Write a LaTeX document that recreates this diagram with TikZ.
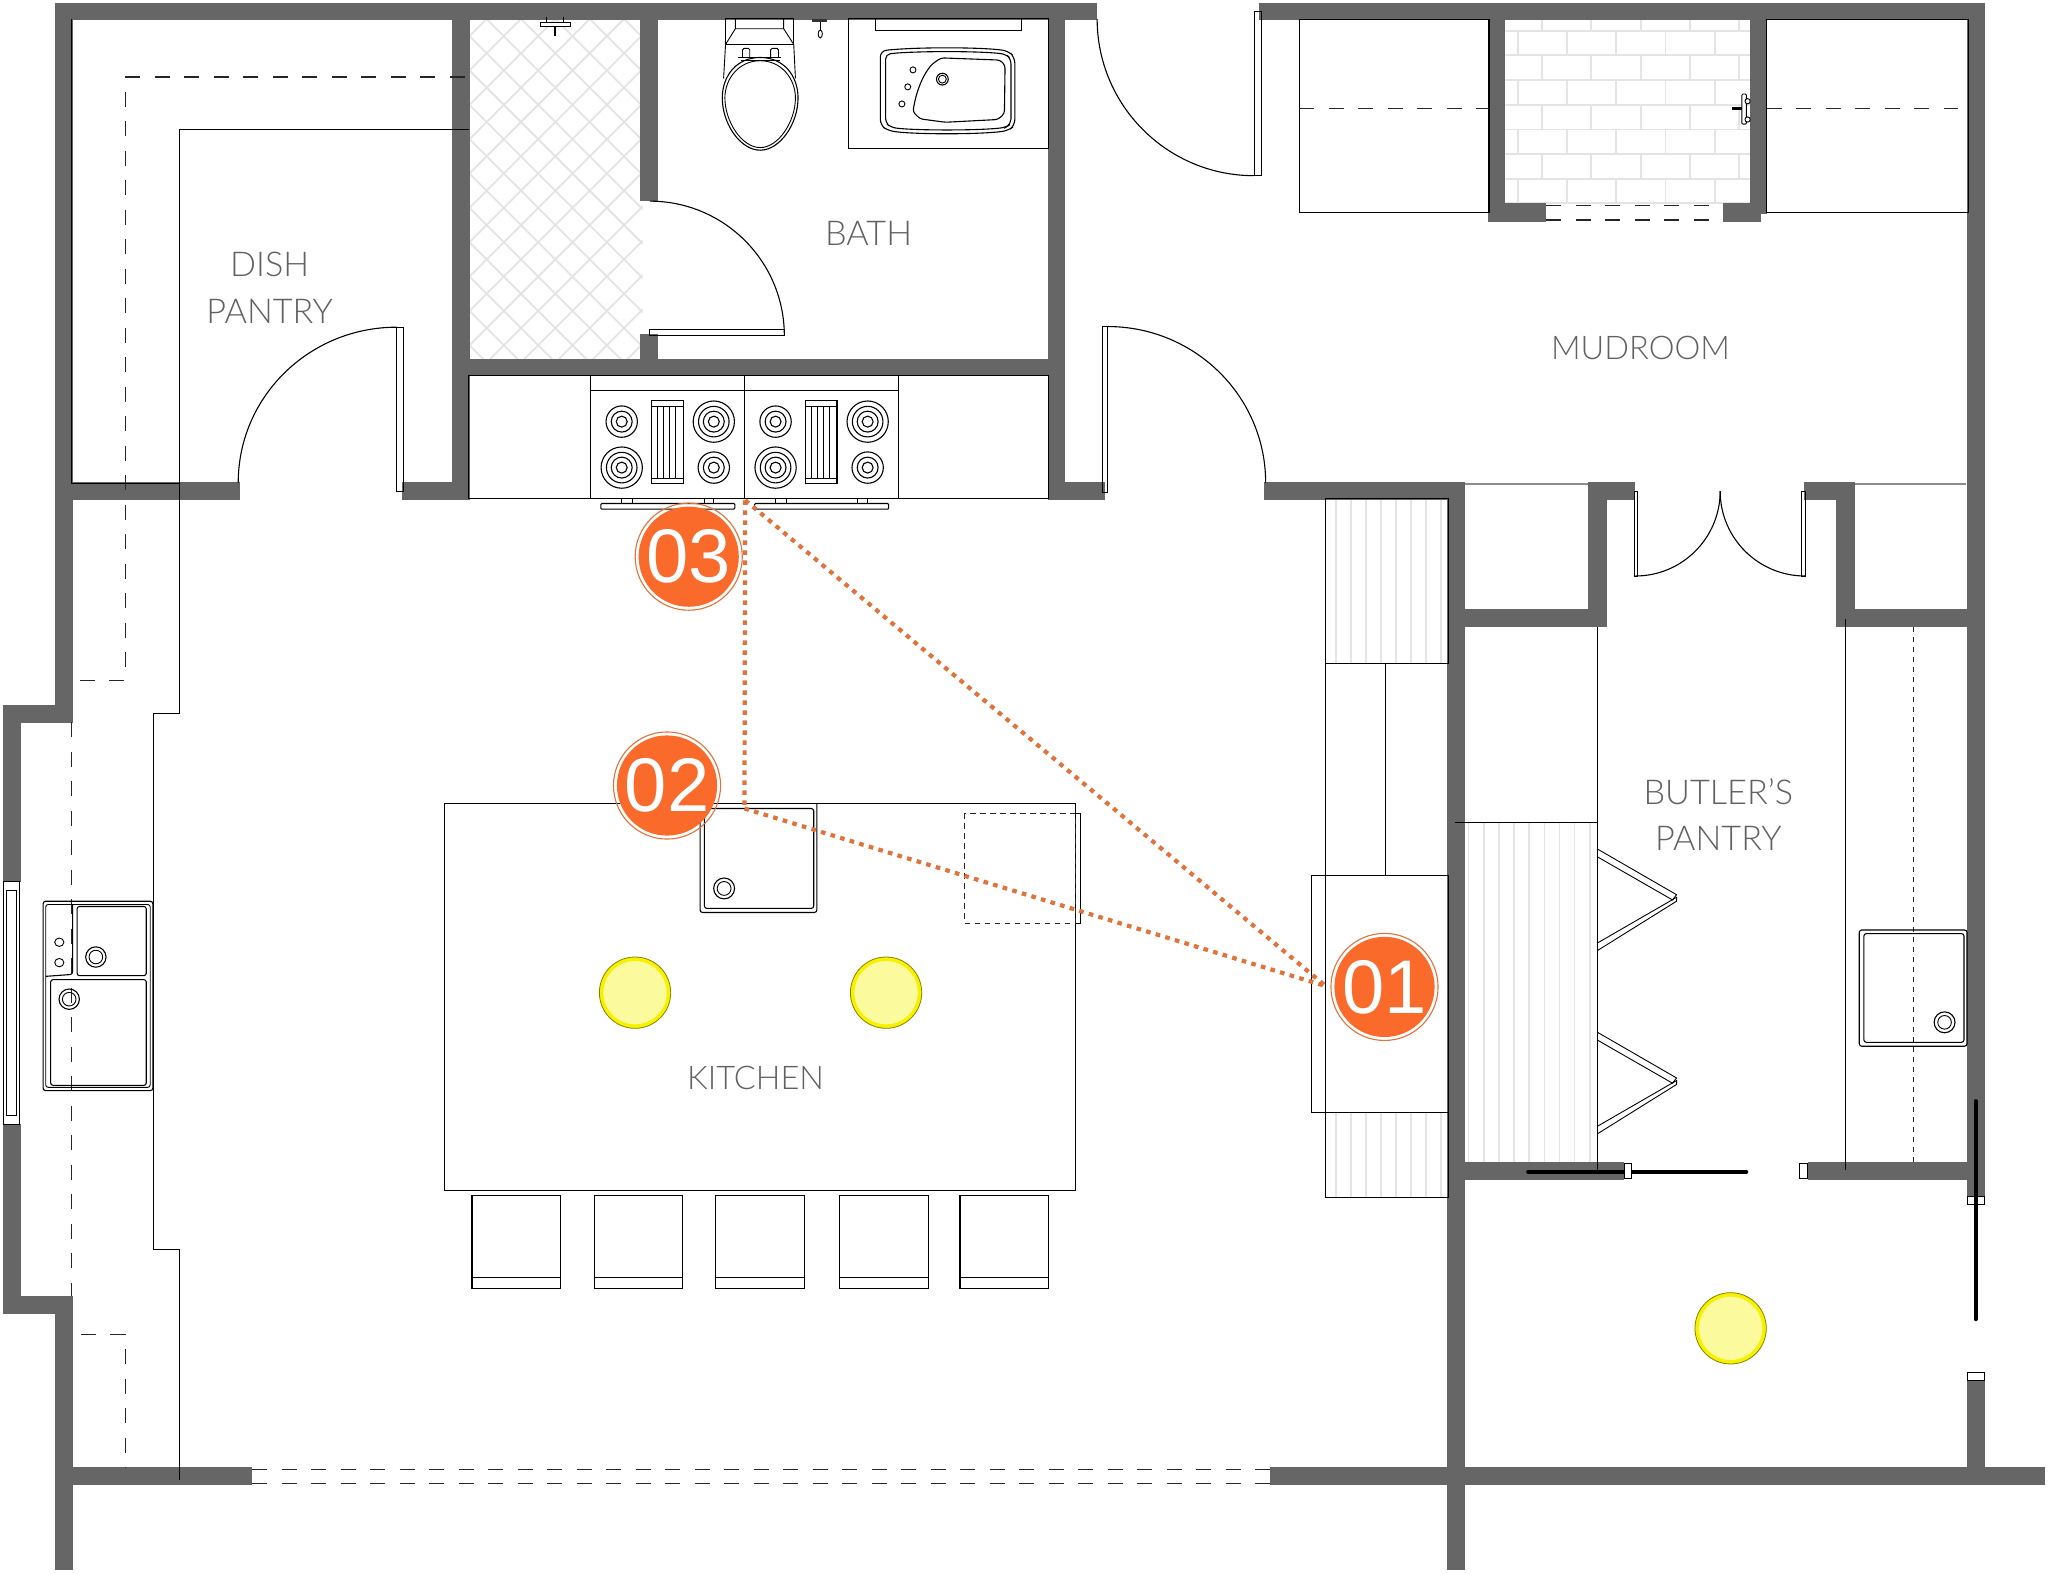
\documentclass[tikz,border=0pt]{standalone}
\usepackage{fontspec}
\setmainfont{Liberation Sans}
\newfontfamily\thinfont{Lato Light}
\definecolor{wallc}{HTML}{666666}
\definecolor{orangeb}{HTML}{F96A2B}
\definecolor{orangel}{HTML}{E0723C}
\definecolor{tilec}{HTML}{E4E4E4}
\definecolor{lampf}{HTML}{FBFB9E}
\definecolor{lampr}{HTML}{F7F000}
\tikzset{
  wall/.style={fill=wallc},
  thinline/.style={draw=black,line width=1.1pt},
  fineline/.style={draw=black,line width=0.9pt},
  dashline/.style={draw=black!85,line width=1.2pt,dash pattern=on 15pt off 14.5pt},
  dashfine/.style={draw=black!85,line width=1.1pt,dash pattern=on 5.5pt off 4.5pt},
  tile/.style={draw=tilec,line width=1.8pt},
  stripe/.style={draw=tilec,line width=1.6pt},
  roomlabel/.style={inner sep=0pt,anchor=base,text=black!62,font=\thinfont\fontsize{34.2}{34}\selectfont},
  roomlabelsm/.style={roomlabel,font=\thinfont\fontsize{32.6}{33}\selectfont},
  badge/.style={circle,fill=orangeb,text=white,minimum size=96.5pt,inner sep=0pt,font=\fontsize{76}{76}\selectfont},
  badgering/.style={draw=orangel,line width=1.1pt},
  sightline/.style={draw=orangel,line width=4.2pt,dash pattern=on 4.6pt off 5.4pt},
  lamp/.style={fill=lampf,draw=lampr,line width=4pt},
  lampedge/.style={draw=black!45!lampr,line width=0.8pt},
  barndoor/.style={draw=black,line width=4pt,line cap=round},
}
\begin{document}
\begin{tikzpicture}[x=1.30612pt,y=-1.30612pt]
\useasboundingbox (0,0) rectangle (1568,1205);
\fill[white] (0,0) rectangle (1568,1205);
% shower tiles
\begin{scope}
\clip (360,16) rectangle (492,275);
\foreach \k in {-4,-3,...,12}{
  \pgfmathsetmacro{\c}{466+26.3*\k}
  \draw[tile] (\c-300,300) -- (\c,0);
}
\foreach \k in {-12,-11,...,4}{
  \pgfmathsetmacro{\c}{384.4+26.3*\k}
  \draw[tile] (\c,0) -- (\c+300,300);
}
\end{scope}
% brick tiles
\begin{scope}
\clip (1152.5,15.3) rectangle (1340,155.7);
\foreach \y in {23.5,42.4,61.3,80.2,99.1,118,136.9,155.2}{\draw[tile] (1150,\y) -- (1342,\y);}
\foreach \y in {4.6,42.4,80.2,118}{\foreach \x in {1180.7,1218.4,...,1340}{\draw[tile] (\x,\y) -- (\x,\y+18.9);}}
\foreach \y in {23.5,61.3,99.1,136.9}{\foreach \x in {1162,1199.7,...,1340}{\draw[tile] (\x,\y) -- (\x,\y+18.9);}}
\end{scope}
% counter stripes
\foreach \x in {1022.7,1034.2,...,1105}{\draw[stripe] (\x,382) -- (\x,508); \draw[stripe] (\x,852) -- (\x,917);}
\foreach \x in {1124.4,1136,...,1220}{\draw[stripe] (\x,630) -- (\x,890);}
\draw[draw=black!45,line width=1.2pt] (1121,370.5) -- (1216,370.5) (1420,370.5) -- (1505,370.5);
% walls
\fill[wall] (42.3,2) rectangle (840,15.5);
\fill[wall] (964,2) rectangle (1519.5,15.5);
\fill[wall] (42.3,2) rectangle (56,553.5);
\fill[wall] (2,540) rectangle (56,553.5);
\fill[wall] (2,540) rectangle (15.8,675);
\fill[wall] (2,860.6) rectangle (15.8,1005.7);
\fill[wall] (2,992) rectangle (56,1005.7);
\fill[wall] (42.3,992) rectangle (56,1202);
\fill[wall] (42.3,369) rectangle (183.7,382.8);
\fill[wall] (307.5,369) rectangle (359.5,382.5);
\fill[wall] (346,2) rectangle (359.5,382.5);
\fill[wall] (490,2) rectangle (504,154);
\fill[wall] (490,256) rectangle (504,287);
\fill[wall] (346,275) rectangle (815,287.5);
\fill[wall] (802,2) rectangle (815,382.5);
\fill[wall] (802,369) rectangle (846,382.5);
\fill[wall] (968,369) rectangle (1121.8,382.5);
\fill[wall] (1108,369) rectangle (1121.8,1202);
\fill[wall] (1216,369) rectangle (1252,382.5);
\fill[wall] (1216,369) rectangle (1230,480);
\fill[wall] (1121.8,466) rectangle (1230,480);
\fill[wall] (1381,369) rectangle (1420,382.5);
\fill[wall] (1406,369) rectangle (1420,480);
\fill[wall] (1406,466) rectangle (1506,480);
\fill[wall] (1505.7,2) rectangle (1519.5,916.3);
\fill[wall] (1140,15) rectangle (1152.5,170);
\fill[wall] (1139,155.7) rectangle (1184,170);
\fill[wall] (1340,15) rectangle (1352.5,164);
\fill[wall] (1319.5,155.7) rectangle (1348,170);
\fill[wall] (1121.8,890) rectangle (1243.5,903.8);
\fill[wall] (1384,890) rectangle (1506,903.8);
\fill[wall] (1505.7,1056.7) rectangle (1519.5,1124);
\fill[wall] (42.3,1123.5) rectangle (193,1137);
\fill[wall] (972,1123.5) rectangle (1566,1137);
% outline lines
\draw[thinline] (54.9,14.5) -- (54.9,370.5) -- (137.3,370.5);
\draw[thinline] (359.3,99) -- (137.3,99) -- (137.3,546.4) -- (117.3,546.4) -- (117.3,956.7) -- (137.3,956.7) -- (137.3,1133);
\draw[dashline] (355.8,59) -- (96,59) -- (96,521) -- (56,521);
\draw[dashline] (62,1021.7) -- (96,1021.7) -- (96,1124);
\draw[dashline] (54.8,553) -- (54.8,992);
\draw[dashline] (193,1124.8) -- (972,1124.8);
\draw[dashline] (193,1135.8) -- (972,1135.8);
% doors
\draw[thinline] (497.5,154) arc[start angle=-90,end angle=0,radius=103];
\draw[fineline] (497,252.6) rectangle (600.6,257);
\draw[thinline] (182.4,369.5) arc[start angle=180,end angle=270,x radius=121.3,y radius=119];
\draw[fineline] (303.7,250.5) rectangle (308.8,376.6);
\draw[thinline] (969,369.5) arc[start angle=0,end angle=-90,x radius=121,y radius=119.5];
\draw[fineline] (844,250) rectangle (848,377);
\draw[thinline] (840,14.5) arc[start angle=180,end angle=90,radius=120];
\draw[fineline] (960.6,8.7) rectangle (965.8,134.5);
\draw[thinline] (1252,441) arc[start angle=90,end angle=0,radius=65];
\draw[thinline] (1382,441) arc[start angle=90,end angle=180,radius=65];
\draw[fineline] (1251.7,376) rectangle (1254,441);
\draw[fineline] (1379.4,376) rectangle (1382,441);
% closets
\draw[thinline] (994.8,15) rectangle (1140,163);
\draw[thinline] (1352.5,15) rectangle (1507,163);
\draw[dashline] (994.8,83) -- (1140,83);
\draw[dashline] (1352.5,83) -- (1499,83);
\draw[dashline] (1184,157.5) -- (1319.5,157.5);
\draw[dashline] (1184,168.4) -- (1319.5,168.4);
% shower fixtures
\draw[fineline,fill=white] (413.7,17) rectangle (437,20.3);
\draw[thinline,line width=1.6pt] (418.5,12.7) -- (418.5,17) (431.4,12.7) -- (431.4,17) (425,20) -- (425,27.7);
\draw[fineline,fill=white,rounded corners=1pt] (1333.6,72) rectangle (1337,95);
\fill[black] (1326,82) rectangle (1334,84.5);
\draw[fineline,fill=white] (1338,77.5) circle[radius=2] (1338,91.5) circle[radius=2];
% toilet
\draw[thinline] (555.5,14.5) -- (607.7,14.5) -- (607.7,34) -- (555.5,34) -- cycle;
\draw[fineline] (563,14.5) -- (563,22) -- (555.5,34) (600,14.5) -- (600,22) -- (607.7,34) (563,22) -- (600,22);
\draw[fineline] (555.5,34) -- (554,60) (607.7,34) -- (609,60);
\draw[thinline,fill=white] (582,44) .. controls (600,44) and (611,58) .. (611,75) .. controls (611,95) and (597,115) .. (582,115) .. controls (567,115) and (553,95) .. (553,75) .. controls (553,58) and (564,44) .. (582,44) -- cycle;
\draw[fineline] (582,46.5) .. controls (598,46.5) and (609,60) .. (609,75) .. controls (609,93) and (596,113) .. (582,113) .. controls (568,113) and (555,93) .. (555,75) .. controls (555,60) and (566,46.5) .. (582,46.5) -- cycle;
\draw[fineline,fill=white,rounded corners=1.5pt] (568.5,44) -- (568.5,37) -- (574,37) -- (574,44);
\draw[fineline,fill=white,rounded corners=1.5pt] (590,44) -- (590,37) -- (596,37) -- (596,44);
\draw[fineline] (565,44) -- (598,44) (567,46) -- (597,46);
% wall hook
\draw[fineline] (628,17) -- (628,28) ;
\fill[black!80] (622,14.5) rectangle (633.5,17);
\draw[fineline,fill=white] (628,26) ellipse[x radius=1.6,y radius=3];
% vanity
\draw[thinline] (649.6,14.5) rectangle (802.7,113.4);
\draw[thinline] (670,14.5) rectangle (782.4,23.2);
\draw[thinline,rounded corners=6pt] (674,39) .. controls (700,36) and (750,36) .. (772,39) -- (777,44) -- (777,96) -- (772,100) .. controls (750,103) and (700,103) .. (680,100) -- (674,96) -- cycle;
\draw[thinline,rounded corners=5pt] (678,41.5) .. controls (700,39) and (750,39) .. (770,41.5) -- (774,45) -- (774,95) -- (770,97.5) .. controls (750,100) and (700,100) .. (682,97.5) -- (678,94) -- cycle;
\draw[thinline,rounded corners=3pt] (720.5,44.3) -- (765.7,46) -- (769.5,50) -- (769,87) -- (764,91.5) -- (723.8,93.6) -- (704.4,91) -- (699,85.7) .. controls (701,72) and (706,58) .. (714,48.8) -- cycle;
\draw[thinline] (721.5,60.6) circle[radius=4.5];
\draw[fineline] (721.5,60.6) circle[radius=3];
\draw[fineline] (699,53.5) circle[radius=2.3] (695,66.5) circle[radius=2.3] (690.5,79.6) circle[radius=2.3];
% cooking wall
\draw[thinline] (359,287.5) rectangle (802.7,381.8);
\foreach \o in {0,117.8}{
  \begin{scope}[xshift=\o*1.30612pt]
  \draw[thinline] (452.4,287.5) rectangle (570,381.8);
  \draw[thinline] (452.4,299.3) -- (570,299.3);
  \draw[thinline] (499,306.7) rectangle (523,370);
  \draw[fineline] (499,311) -- (523,311) (499,366) -- (523,366);
  \foreach \x in {503.5,508,512.5,517}{\draw[fineline] (\x,311) -- (\x,366);}
  \foreach \x/\y in {476/322.8,546.5/358}{
    \draw[thinline] (\x,\y) circle[radius=12];
    \draw[thinline] (\x,\y) circle[radius=8];
    \draw[thinline] (\x,\y) circle[radius=4.2];
  }
  \foreach \x/\y in {546.5/322.8,476/358}{
    \draw[thinline] (\x,\y) circle[radius=15.8];
    \draw[thinline] (\x,\y) circle[radius=11.7];
    \draw[thinline] (\x,\y) circle[radius=8];
    \draw[thinline] (\x,\y) circle[radius=4.2];
  }
  \draw[fineline] (476,382) -- (476,385.5) (484,382) -- (484,385.5) (539,382) -- (539,385.5) (546.5,382) -- (546.5,385.5);
  \draw[thinline,rounded corners=1pt] (460,385.5) rectangle (562.6,389.8);
  \end{scope}
}
% island
\draw[thinline] (340,615) rectangle (823.2,911.5);
\draw[thinline,rounded corners=2.5pt] (536,615) -- (536,698.6) -- (625.4,698.6) -- (625.4,615);
\draw[thinline,rounded corners=2.5pt] (539.3,619) rectangle (623,695.5);
\draw[thinline] (554.4,680.2) circle[radius=8];
\draw[fineline] (554.4,680.2) circle[radius=5.3];
\draw[dashfine] (738.7,622.8) rectangle (823.2,707);
\draw[fineline] (823.2,622.8) -- (827,622.8) -- (827,707) -- (823.2,707);
\foreach \x in {361.4,455,548,643,735}{
  \draw[thinline] (\x,915) rectangle (\x+67.6,986.7);
  \draw[thinline] (\x,977.8) -- (\x+67.6,977.8);
}
% window
\draw[fineline] (2.8,675) rectangle (14.8,860.6);
\draw[fineline] (5,682) rectangle (12.7,854);
% kitchen sink
\draw[thinline,rounded corners=2.5pt] (33,690) rectangle (117,835);
\draw[fineline,rounded corners=2.5pt] (35,692.5) rectangle (115,832.5);
\draw[thinline,rounded corners=2.5pt] (59,694) rectangle (112,747);
\draw[thinline,rounded corners=2.5pt] (38.8,750) rectangle (112,831);
\draw[thinline,rounded corners=2.5pt] (55.6,692.5) -- (55.6,746) -- (35,747.5);
\draw[thinline] (73.4,732.7) circle[radius=7.8];
\draw[fineline] (73.4,732.7) circle[radius=5.2];
\draw[thinline] (53,765) circle[radius=7.8];
\draw[fineline] (53,765) circle[radius=5.2];
\draw[fineline] (45.4,721.4) ellipse[x radius=3.5,y radius=3.2] (45.4,737) ellipse[x radius=3.5,y radius=3.2];
% tall units east wall
\draw[thinline] (1014.5,382) rectangle (1109,508);
\draw[thinline] (1014.5,508) -- (1014.5,852);
\draw[thinline] (1061,508) -- (1061,670.6);
\draw[thinline] (1004,670.6) rectangle (1109,852);
\draw[thinline] (1014.5,852) rectangle (1109,917);
\draw[thinline] (1114,629.8) -- (1223,629.8);
\draw[thinline] (1223,480) -- (1223,896);
% shelves
\foreach \d in {0,140.3}{
  \begin{scope}[yshift=-\d*1.30612pt]
  \draw[fineline] (1223,650) -- (1283.6,685) -- (1280.5,689) -- (1223,656);
  \draw[fineline] (1223,722) -- (1283.6,687) -- (1283.6,690) -- (1223,727.8);
  \end{scope}
}
% pantry east counter
\draw[thinline] (1413,474) -- (1413,896);
\draw[dashfine] (1464.7,480) -- (1464.7,890);
\draw[thinline,rounded corners=2.5pt] (1423.5,712) rectangle (1506,801);
\draw[thinline,rounded corners=2.5pt] (1427,714.8) rectangle (1503.7,798);
\draw[thinline] (1488.8,782.7) circle[radius=8];
\draw[fineline] (1488.8,782.7) circle[radius=5.2];
% barn doors
\draw[barndoor] (1170,897) -- (1337,897);
\draw[fineline,fill=white] (1243.5,891) rectangle (1249,902.5);
\draw[fineline,fill=white] (1378,891) rectangle (1384,902.5);
\draw[barndoor] (1512.6,843) -- (1512.6,1010);
\draw[fineline] (1506.5,916.3) rectangle (1519,922);
\draw[fineline,fill=white] (1506.5,1051) rectangle (1519,1056.7);
% lamps
\foreach \p in {(486.2,760),(678.4,760),(1325,1017)}{
  \draw[lamp] \p circle[radius=25.8];
  \draw[lampedge] \p circle[radius=27.3];
}
% room labels
\node[roomlabel] (lbath) at (665,188) {BATH};
\node[roomlabel] (ldish) at (206.5,212) {DISH};
\node[roomlabel] (lpantrya) at (206.5,247.5) {PANTRY};
\node[roomlabelsm] (lmud) at (1256,275) {MUDROOM};
\node[roomlabelsm] (lkit) at (578.5,834) {KITCHEN};
\node[roomlabel] (lbut) at (1315.6,615.7) {BUTLER’S};
\node[roomlabel] (lpantryb) at (1315.6,651) {PANTRY};
% sight lines
\coordinate (rangept) at (570.5,383);
\coordinate (sinkpt) at (570,619);
\coordinate (fridgept) at (1015,755);
\draw[sightline] (rangept) -- (sinkpt);
\draw[sightline] (sinkpt) -- (fridgept);
\draw[sightline] (rangept) -- (fridgept);
% badges
\node[badge] (bthree) at (527.3,426.2) {03};
\node[badge] (btwo) at (510.7,601.4) {02};
\node[badge] (bone) at (1060,755.6) {01};
\foreach \b in {bone,btwo,bthree}{\draw[badgering] (\b.center) circle[radius=41];}
\end{tikzpicture}
\end{document}
